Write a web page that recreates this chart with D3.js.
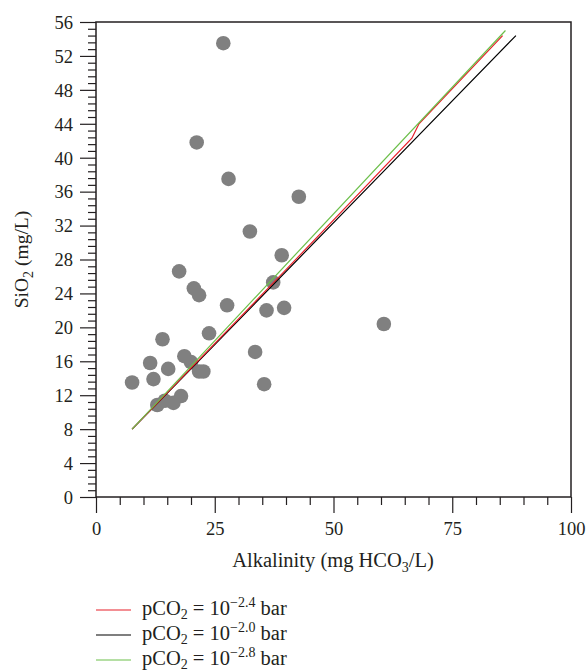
<!DOCTYPE html>
<html>
<head>
<meta charset="utf-8">
<script src="https://cdn.jsdelivr.net/npm/d3@7"></script>
<style>
  body { margin: 0; background: #fff; }
  text { font-family: "Liberation Serif", "DejaVu Serif", serif; fill: #231f20; }
</style>
</head>
<body>
<svg id="chart" width="588" height="671"></svg>
<script>
// measured samples: alkalinity (mg HCO3/L) vs SiO2 (mg/L)
const alkalinity = [26.8, 21.2, 27.9, 42.7, 32.4, 39.1, 37.3, 17.5, 20.6, 21.7,
  27.6, 35.9, 39.6, 23.8, 14.0, 33.5, 18.6, 20.0, 11.4, 15.2,
  21.7, 22.6, 7.6, 12.1, 35.4, 12.9, 14.5, 16.3, 17.9, 60.6]
const silica = [53.5, 41.8, 37.5, 35.4, 31.3, 28.5, 25.3, 26.6, 24.6, 23.8,
  22.6, 22.0, 22.3, 19.3, 18.6, 17.1, 16.6, 15.9, 15.8, 15.1,
  14.8, 14.8, 13.5, 13.9, 13.3, 10.85, 11.35, 11.1, 11.9, 20.4]

// equilibrium curves for three pCO2 values
const curve24x = [7.6, 40, 66.5, 68, 85.6]
const curve24y = [8.0, 26.8, 42.3, 44.0, 54.4]
const curve20x = [7.6, 30.3, 58.9, 88.4]
const curve20y = [8.0, 21.0, 37.45, 54.4]
const curve28x = [7.6, 30.3, 86.2]
const curve28y = [8.0, 21.6, 55.0]

const seriesNames = ['\u22122.4', '\u22122.0', '\u22122.8']
const seriesColors = ['#e8202a', '#000000', '#6cbf4a']

const xTicks = [0, 25, 50, 75, 100]
const yTicks = [0, 4, 8, 12, 16, 20, 24, 28, 32, 36, 40, 44, 48, 52, 56]

const mLeft = 96, mRight = 571, mTop = 22, mBottom = 497

const svg = d3.select('#chart')

const x = d3.scaleLinear().domain([0, 100]).range([mLeft, mRight])
const y = d3.scaleLinear().domain([0, 56]).range([mBottom, mTop])

// minor ticks
const xMinor = d3.range(0, 101, 5).filter(v => v % 25 !== 0)
const yMinor = d3.range(0, 56.01, 0.8).map(v => +v.toFixed(1)).filter(v => v % 4 !== 0)

svg.append('g')
  .attr('transform', `translate(0,${mBottom})`)
  .call(d3.axisBottom(x).tickValues(xMinor).tickSize(8).tickFormat(''))

svg.append('g')
  .attr('transform', `translate(${mLeft},0)`)
  .call(d3.axisLeft(y).tickValues(yMinor).tickSize(8).tickFormat(''))

const xAxis = svg.append('g')
  .attr('transform', `translate(0,${mBottom})`)
  .call(d3.axisBottom(x).tickValues(xTicks).tickSize(16).tickSizeOuter(0).tickPadding(9))

const yAxis = svg.append('g')
  .attr('transform', `translate(${mLeft},0)`)
  .call(d3.axisLeft(y).tickValues(yTicks).tickSize(16).tickSizeOuter(0).tickPadding(7))

svg.selectAll('.domain').remove()
svg.selectAll('.tick line').attr('stroke', '#231f20').attr('stroke-width', 1.2)
svg.selectAll('.tick text').attr('font-size', 18.5)
  .attr('font-family', '"Liberation Serif", serif').attr('fill', '#231f20')
yAxis.selectAll('.tick text').attr('dy', '0.34em')

// frame
svg.append('rect')
  .attr('x', mLeft).attr('y', mTop)
  .attr('width', mRight - mLeft).attr('height', mBottom - mTop)
  .attr('fill', 'none').attr('stroke', '#231f20').attr('stroke-width', 1.5)

// points
svg.append('g').selectAll('circle')
  .data(alkalinity.map((a, i) => [a, silica[i]]))
  .enter().append('circle')
  .attr('cx', d => x(d[0]))
  .attr('cy', d => y(d[1]))
  .attr('r', 7.3)
  .attr('fill', '#808080')

// curves
const line = d3.line().x(d => x(d[0])).y(d => y(d[1]))
const curves = [
  d3.zip(curve24x, curve24y),
  d3.zip(curve20x, curve20y),
  d3.zip(curve28x, curve28y)
]
const drawOrder = [1, 0, 2]
drawOrder.forEach(i => {
  svg.append('path')
    .datum(curves[i])
    .attr('d', line)
    .attr('fill', 'none')
    .attr('stroke', seriesColors[i])
    .attr('stroke-width', 1.2)
})

// axis titles
const xt = svg.append('text')
  .attr('x', 333).attr('y', 567)
  .attr('text-anchor', 'middle').attr('font-size', 20.5)
xt.append('tspan').text('Alkalinity (mg HCO')
xt.append('tspan').attr('font-size', 14).attr('dy', 5).text('3')
xt.append('tspan').attr('dy', -5).text('/L)')

const yt = svg.append('text')
  .attr('transform', `translate(28,${(mTop + mBottom) / 2}) rotate(-90)`)
  .attr('text-anchor', 'middle').attr('font-size', 19.5)
yt.append('tspan').text('SiO')
yt.append('tspan').attr('font-size', 14).attr('dy', 5).text('2')
yt.append('tspan').attr('dy', -5).text(' (mg/L)')

// legend
const legend = svg.append('g')
seriesNames.forEach((name, i) => {
  const ly = 610 + i * 25
  legend.append('line')
    .attr('x1', 96).attr('x2', 131)
    .attr('y1', ly).attr('y2', ly)
    .attr('stroke', seriesColors[i]).attr('stroke-width', 1.2)
  const t = legend.append('text')
    .attr('x', 142).attr('y', ly + 4.5).attr('font-size', 20.5)
  t.append('tspan').text('pCO')
  t.append('tspan').attr('font-size', 14).attr('dy', 4).text('2')
  t.append('tspan').attr('dy', -4).text(' = 10')
  t.append('tspan').attr('font-size', 14).attr('dy', -8).text(name)
  t.append('tspan').attr('dy', 8).text(' bar')
})
</script>
</body>
</html>
